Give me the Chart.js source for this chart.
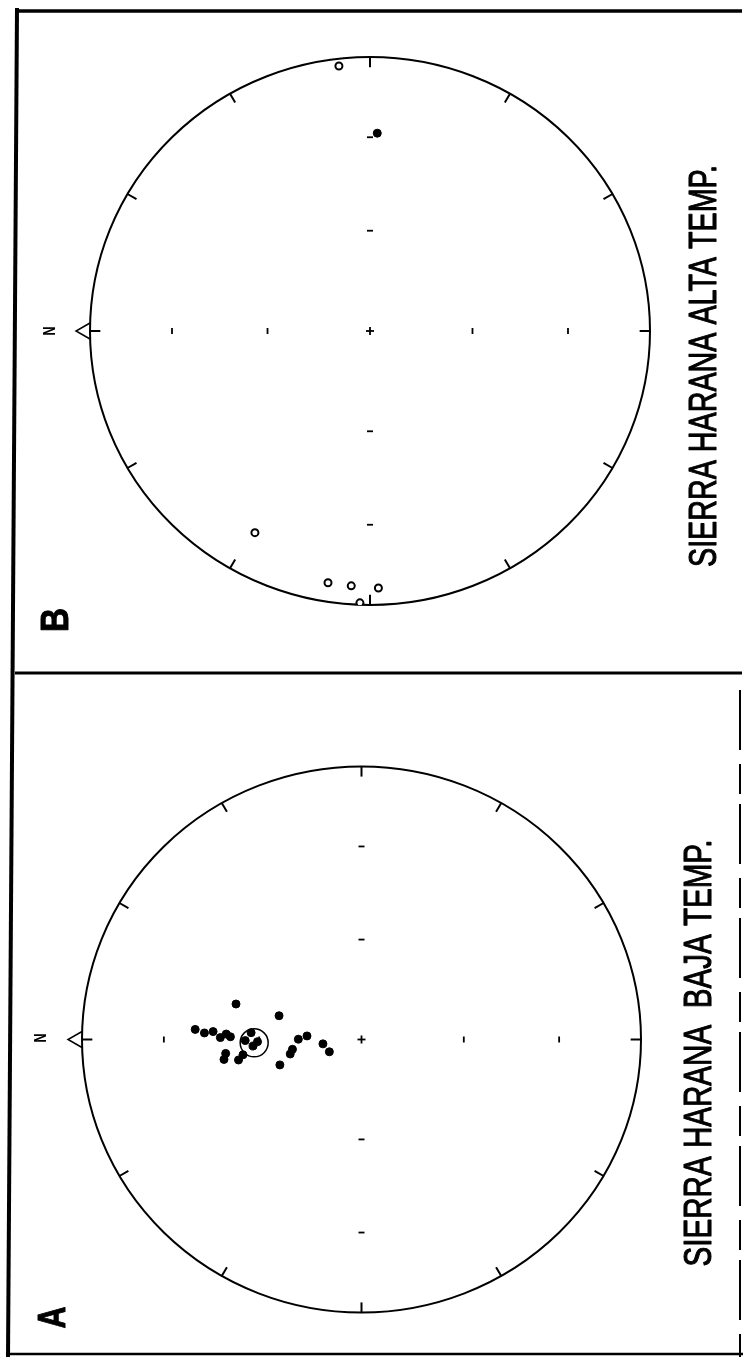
<!DOCTYPE html>
<html lang="es">
<head>
<meta charset="UTF-8">
<title>Sierra Harana</title>
<script src="https://cdn.jsdelivr.net/npm/chart.js"></script>
<style>
    body { margin: 0; background: #ffffff; }
    .panel { position: absolute; left: 0; }
    #panelB { top: 0; }
    #panelA { top: 673px; }
</style>
</head>
<body>
<canvas id="panelB" class="panel" width="743" height="673"></canvas>
<canvas id="panelA" class="panel" width="743" height="684"></canvas>

<script>
    // equal-area net marks: azimuths on the primitive, inclinations on the diameters
    const azimuthTicks = [0, 30, 60, 90, 120, 150, 180, 210, 240, 270, 300, 330];
    const inclinationTicks = [60, 30];

    // B - alta temperatura (projected north / east components, unit = primitive radius)
    const bOpenNorth = [0.111, 0.411, 0.150, 0.067, -0.030, 0.036];
    const bOpenEast = [0.967, -0.736, -0.919, -0.930, -0.938, -0.992];
    const bSolidNorth = [-0.026];
    const bSolidEast = [0.722];

    // A - baja temperatura
    const aSolidNorth = [0.449, 0.295, 0.595, 0.562, 0.531, 0.505, 0.484, 0.469, 0.395, 0.416, 0.388, 0.372,
        0.492, 0.486, 0.440, 0.424, 0.292, 0.247, 0.255, 0.226, 0.195, 0.138, 0.115];
    const aSolidEast = [0.130, 0.087, 0.037, 0.024, 0.029, 0.007, 0.020, 0.010, 0.025, -0.004, -0.024, -0.008,
        -0.073, -0.051, -0.075, -0.056, -0.093, -0.036, -0.053, 0.001, 0.013, -0.016, -0.045];
    const aMeanNorth = [0.384];
    const aMeanEast = [-0.012];

    // frame of the figure, page coordinates [x1, y1, x2, y2, width]
    const frame = [
        [15, 11, 742, 11, 3.5],
        [17, 8, 8, 1357, 4],
        [15, 673, 742, 673, 3],
        [10, 1354, 743, 1354, 2.5]
    ];

    const pts = (n, e) => n.map((v, i) => ({ x: v, y: e[i] }));

    function seg(ctx, x1, y1, x2, y2) {
        ctx.beginPath();
        ctx.moveTo(x1, y1);
        ctx.lineTo(x2, y2);
        ctx.stroke();
    }

    function rotatedText(ctx, text, x, y, font, len, weight) {
        ctx.save();
        ctx.translate(x, y);
        ctx.rotate(-Math.PI / 2);
        ctx.font = font;
        const w = ctx.measureText(text).width;
        ctx.scale(len / w, 1);
        ctx.textAlign = 'center';
        ctx.textBaseline = 'alphabetic';
        ctx.fillStyle = '#000';
        ctx.fillText(text, 0, 0);
        if (weight) {
            ctx.strokeStyle = '#000';
            ctx.lineWidth = weight;
            ctx.lineJoin = 'round';
            ctx.strokeText(text, 0, 0);
        }
        ctx.restore();
    }

    const stereonet = {
        id: 'stereonet',
        beforeDatasetsDraw(chart, args, opts) {
            const { ctx, scales: { x, y } } = chart;
            const px = (n, e) => [x.getPixelForValue(n), y.getPixelForValue(e)];
            const [cx, cy] = px(0, 0);
            const rx = Math.abs(x.getPixelForValue(1) - cx);
            const ry = Math.abs(y.getPixelForValue(1) - cy);

            ctx.save();
            ctx.strokeStyle = '#000';
            ctx.lineWidth = 2;
            ctx.beginPath();
            ctx.ellipse(cx, cy, rx, ry, 0, 0, Math.PI * 2);
            ctx.stroke();

            // ticks on the primitive, pointing inwards
            azimuthTicks.forEach(az => {
                const a = az * Math.PI / 180;
                const n = Math.cos(a), e = Math.sin(a);
                const [x1, y1] = px(n, e);
                const [x2, y2] = px(n * 0.963, e * 0.963);
                seg(ctx, x1, y1, x2, y2);
            });

            // inclination ticks along both diameters
            ctx.lineWidth = 1.8;
            inclinationTicks.forEach(inc => {
                const r = Math.SQRT2 * Math.sin((90 - inc) / 2 * Math.PI / 180);
                [r, -r].forEach(v => {
                    const tx = x.getPixelForValue(v);
                    seg(ctx, tx, cy - 3, tx, cy + 3);
                    const ty = y.getPixelForValue(v);
                    seg(ctx, cx - 3, ty, cx + 3, ty);
                });
            });
            seg(ctx, cx - 4, cy, cx + 4, cy);
            seg(ctx, cx, cy - 4, cx, cy + 4);

            // north arrow
            const [nx, ny] = px(1, 0);
            ctx.lineWidth = 1.5;
            ctx.beginPath();
            ctx.moveTo(nx, ny - 8);
            ctx.lineTo(nx - 14, ny);
            ctx.lineTo(nx, ny + 8);
            ctx.stroke();
            rotatedText(ctx, 'N', opts.nPos[0], opts.nPos[1], 'bold 17px "Liberation Sans"', 9);
            ctx.restore();
        },
        afterDraw(chart, args, opts) {
            const { ctx } = chart;
            ctx.save();
            ctx.strokeStyle = '#000';
            frame.forEach(([x1, y1, x2, y2, w]) => {
                ctx.lineWidth = w;
                seg(ctx, x1, y1 - opts.top, x2, y2 - opts.top);
            });
            if (opts.rightEdge) {
                ctx.lineWidth = 2;
                ctx.setLineDash([60, 14, 30, 10]);
                seg(ctx, 740, 690 - opts.top, 740, 1357 - opts.top);
                ctx.setLineDash([]);
            }
            rotatedText(ctx, opts.letter, opts.letterPos[0], opts.letterPos[1], 'bold 39px "Liberation Sans"', opts.letterLen, 1);
            rotatedText(ctx, opts.title, opts.titlePos[0], opts.titlePos[1], '38px "Liberation Sans"', opts.titleLen, 1.1);
            ctx.restore();
        }
    };

    function makeNet(canvasId, datasets, padding, labels) {
        return new Chart(document.getElementById(canvasId), {
            type: 'scatter',
            data: { datasets: datasets },
            options: {
                responsive: false,
                animation: false,
                layout: { padding: padding },
                scales: {
                    x: { type: 'linear', min: -1, max: 1, reverse: true, display: false },
                    y: { type: 'linear', min: -1, max: 1, display: false }
                },
                plugins: {
                    legend: { display: false },
                    tooltip: { enabled: false },
                    stereonet: labels
                }
            },
            plugins: [stereonet]
        });
    }

    makeNet('panelB', [
        {
            label: 'abiertos',
            data: pts(bOpenNorth, bOpenEast),
            pointStyle: 'circle',
            pointRadius: 3.5,
            backgroundColor: '#ffffff',
            borderColor: '#000000',
            borderWidth: 2
        },
        {
            label: 'llenos',
            data: pts(bSolidNorth, bSolidEast),
            pointRadius: 4,
            backgroundColor: '#000000',
            borderColor: '#000000',
            borderWidth: 1
        }
    ], { left: 90, right: 93, top: 57, bottom: 68 }, {
        top: 0,
        title: 'SIERRA HARANA ALTA TEMP.',
        titlePos: [716, 366],
        titleLen: 402,
        letter: 'B',
        letterPos: [68, 620],
        letterLen: 24,
        nPos: [55, 331]
    });

    makeNet('panelA', [
        {
            label: 'media',
            data: pts(aMeanNorth, aMeanEast),
            pointRadius: 14,
            backgroundColor: 'rgba(0,0,0,0)',
            borderColor: '#000000',
            borderWidth: 1.5
        },
        {
            label: 'llenos',
            data: pts(aSolidNorth, aSolidEast),
            pointRadius: 4,
            backgroundColor: '#000000',
            borderColor: '#000000',
            borderWidth: 1
        }
    ], { left: 82, right: 102, top: 93.5, bottom: 44.5 }, {
        top: 673,
        rightEdge: true,
        title: 'SIERRA HARANA  BAJA TEMP.',
        titlePos: [711, 1053 - 673],
        titleLen: 427,
        letter: 'A',
        letterPos: [65, 1317.5 - 673],
        letterLen: 22,
        nPos: [46, 1038 - 673]
    });
</script>
</body>
</html>
